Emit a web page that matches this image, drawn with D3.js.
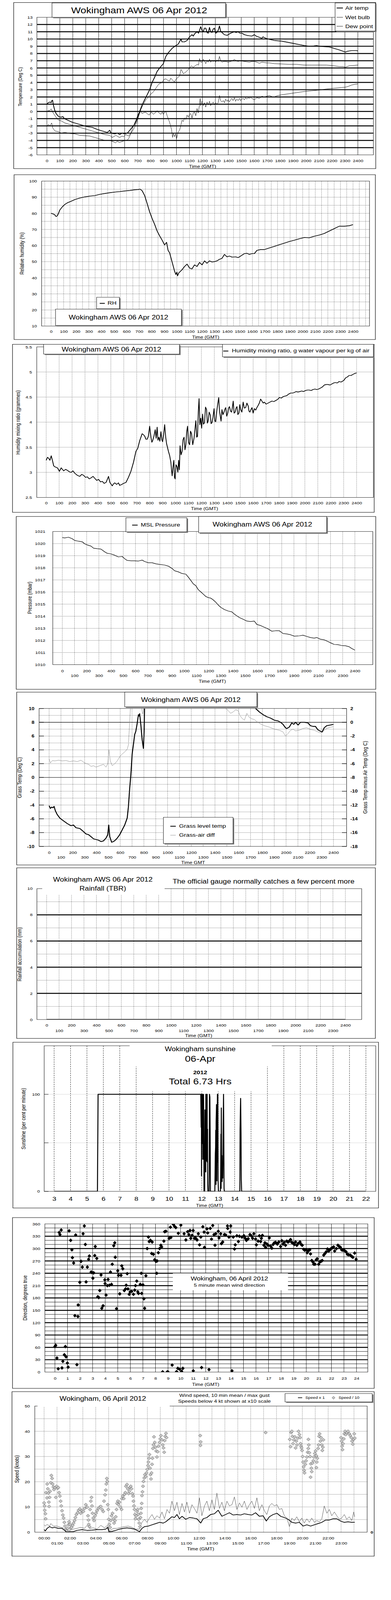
<!DOCTYPE html>
<html><head><meta charset="utf-8">
<script src="https://cdn.jsdelivr.net/npm/d3@7"></script>
<style>html,body{margin:0;padding:0;background:#fff;overflow:hidden}svg{display:block}</style>
</head><body>
<script>
// ---- data ----
// time is hhmm plotted as a plain number 0..2400
const airTemp = [[0,1.0],[10,1.2],[23,1.3],[33,1.2],[38,1.5],[44,1.55],[50,0.9],[60,0.2],[71,-0.3],[90,-0.7],[110,-0.8],[123,-0.7],[135,-1.0],[160,-1.2],[196,-1.5],[235,-1.7],[273,-1.9],[312,-2.1],[350,-2.2],[390,-2.5],[427,-2.7],[466,-2.9],[485,-2.6],[495,-3.0],[523,-3.1],[545,-3.0],[562,-3.2],[580,-3.0],[600,-3.1],[620,-3.0],[640,-2.6],[658,-2.2],[677,-1.8],[697,-1.0],[716,0.0],[735,0.9],[754,1.6],[774,2.3],[793,3.0],[812,4.0],[831,4.7],[850,5.5],[870,6.0],[899,6.6],[918,7.6],[937,8.1],[966,8.7],[995,9.1],[1014,9.3],[1035,10.0],[1043,9.6],[1062,9.6],[1082,9.8],[1101,10.3],[1120,10.6],[1130,10.4],[1139,10.7],[1159,11.0],[1170,10.8],[1178,11.2],[1187,11.7],[1197,11.2],[1207,11.0],[1216,11.5],[1226,11.5],[1236,10.9],[1245,10.8],[1255,11.6],[1264,11.0],[1274,10.9],[1284,11.4],[1293,11.5],[1303,10.8],[1312,10.9],[1322,11.2],[1332,11.8],[1341,11.1],[1351,10.9],[1370,10.6],[1390,10.5],[1418,10.8],[1447,11.0],[1460,10.9],[1476,11.0],[1490,10.8],[1505,10.8],[1525,10.6],[1543,10.5],[1563,10.45],[1582,10.4],[1601,10.6],[1615,10.4],[1630,10.3],[1645,10.2],[1659,10.1],[1668,10.3],[1678,10.2],[1690,10.1],[1707,10.0],[1755,9.8],[1813,9.7],[1871,9.5],[1928,9.3],[1986,9.1],[2025,9.0],[2060,9.05],[2082,9.1],[2102,9.0],[2140,8.95],[2179,8.9],[2200,8.8],[2217,8.7],[2236,8.6],[2256,8.5],[2280,8.35],[2304,8.2],[2318,8.3],[2333,8.35],[2352,8.4],[2371,8.4],[2390,8.4],[2400,8.35]];
const wetBulb = [[0,0.0],[10,0.1],[20,0.1],[33,0.35],[42,0.0],[52,-0.3],[71,-0.8],[90,-1.2],[110,-1.3],[139,-1.6],[177,-1.8],[216,-2.0],[254,-2.2],[293,-2.4],[331,-2.6],[370,-2.8],[408,-3.0],[447,-3.2],[485,-3.3],[504,-3.6],[533,-3.3],[550,-3.5],[562,-3.6],[580,-3.4],[591,-3.5],[610,-3.2],[630,-3.4],[649,-3.0],[668,-2.5],[687,-1.8],[706,-0.8],[726,0.3],[745,1.0],[764,1.6],[783,2.0],[803,2.4],[822,2.7],[841,3.2],[860,3.7],[875,3.9],[889,4.0],[903,4.4],[918,4.5],[932,4.3],[947,4.2],[956,4.6],[966,4.4],[976,4.2],[985,4.1],[995,4.4],[1005,4.6],[1024,4.9],[1035,5.8],[1043,5.6],[1053,5.2],[1062,5.3],[1082,5.6],[1101,6.0],[1115,6.3],[1130,6.1],[1145,6.3],[1159,6.5],[1170,6.4],[1178,7.3],[1187,6.8],[1197,6.8],[1207,7.2],[1216,7.0],[1226,6.6],[1236,7.0],[1245,6.8],[1255,7.2],[1264,6.8],[1274,7.0],[1284,6.9],[1293,7.0],[1303,6.8],[1312,7.1],[1322,6.9],[1332,7.6],[1341,7.0],[1351,6.8],[1365,6.9],[1380,6.9],[1400,6.8],[1418,6.9],[1434,7.0],[1447,7.2],[1460,7.0],[1476,6.9],[1490,7.0],[1505,6.95],[1524,6.9],[1543,6.85],[1563,6.8],[1582,6.9],[1601,6.9],[1620,6.8],[1640,6.65],[1660,6.8],[1678,6.75],[1697,6.7],[1717,6.7],[1755,6.6],[1813,6.55],[1871,6.5],[1928,6.5],[1986,6.4],[2044,6.4],[2102,6.4],[2159,6.4],[2217,6.3],[2256,6.2],[2285,6.2],[2304,6.1],[2333,6.3],[2370,6.35],[2400,6.4]];
const dewPoint = [[0,-2.0],[13,-1.8],[23,-2.0],[37,-1.6],[46,-2.3],[62,-2.7],[90,-2.8],[110,-3.0],[139,-2.9],[177,-3.05],[216,-3.1],[254,-3.3],[293,-3.35],[331,-3.4],[370,-3.6],[408,-3.8],[447,-4.0],[485,-4.0],[514,-4.2],[530,-4.35],[543,-4.1],[560,-4.3],[572,-4.2],[590,-4.1],[600,-4.0],[615,-4.0],[630,-3.8],[649,-3.0],[668,-2.0],[687,-1.2],[706,-0.3],[726,0.0],[735,-0.3],[745,-0.2],[760,-0.1],[774,-0.3],[790,-0.5],[803,-0.1],[812,-0.2],[822,-0.4],[836,-0.2],[851,0.1],[865,-0.2],[880,-0.4],[890,-0.1],[899,-0.4],[909,-0.1],[918,0.0],[928,-0.6],[947,-1.5],[962,-2.5],[970,-3.6],[976,-3.0],[985,-3.5],[990,-3.2],[995,-3.1],[1000,-3.8],[1005,-3.5],[1014,-2.8],[1024,-2.6],[1034,-1.9],[1043,-1.2],[1053,-1.4],[1062,-0.9],[1072,-1.1],[1082,-0.5],[1091,-0.8],[1101,-0.4],[1110,-0.3],[1120,-0.9],[1130,-0.2],[1139,-0.1],[1149,-0.6],[1159,0.4],[1168,-0.2],[1178,0.9],[1183,1.8],[1187,0.8],[1197,1.4],[1207,0.8],[1216,1.2],[1226,0.6],[1236,1.3],[1245,0.9],[1255,1.4],[1264,0.8],[1274,1.1],[1284,1.3],[1293,0.9],[1303,1.2],[1312,1.0],[1322,1.2],[1332,2.2],[1341,1.5],[1351,1.3],[1361,1.5],[1370,1.2],[1380,1.7],[1390,1.4],[1399,1.6],[1408,1.3],[1418,1.6],[1428,1.8],[1437,1.5],[1447,1.9],[1456,1.4],[1466,1.7],[1476,1.5],[1486,1.8],[1495,1.5],[1505,1.7],[1515,1.8],[1524,1.6],[1534,1.9],[1543,1.7],[1553,1.9],[1563,1.8],[1572,2.0],[1582,1.8],[1601,1.6],[1620,1.9],[1640,1.8],[1659,2.1],[1678,2.0],[1697,2.1],[1717,2.2],[1736,2.05],[1755,2.0],[1774,2.15],[1813,2.3],[1871,2.45],[1928,2.6],[1986,2.75],[2044,2.85],[2102,2.95],[2159,3.1],[2217,3.2],[2275,3.3],[2304,3.35],[2325,3.45],[2352,3.65],[2380,3.75],[2400,3.8]];
const relHum = [[0,80.0],[10,79.8],[20,79.5],[30,79.0],[40,78.0],[50,78.5],[59,80.0],[69,82],[89,84],[109,85.5],[129,86.5],[159,87.5],[188,88.5],[228,89.5],[268,90.2],[307,90.7],[347,91.0],[387,91.8],[426,92.3],[466,92.8],[506,93.2],[545,93.5],[585,93.9],[625,94.2],[664,94.6],[694,94.8],[708,95.0],[724,94],[744,91],[764,86],[783,81],[803,76.8],[823,73.2],[843,69],[863,66],[883,63.3],[902,60.4],[918,62],[930,57],[942,55.5],[962,49.8],[982,44],[992,42],[1000,43.5],[1005,41.2],[1015,43],[1041,45],[1061,47],[1081,48.5],[1101,46],[1120,45.5],[1140,48],[1160,47],[1180,49.5],[1200,48],[1220,50.5],[1239,49],[1259,50.5],[1279,49.8],[1299,50],[1319,50.5],[1339,51.5],[1358,52],[1378,54.5],[1398,53],[1418,53.5],[1438,52.8],[1467,53],[1487,52.5],[1517,54],[1537,55],[1557,55.2],[1576,54.5],[1596,55],[1616,55],[1636,57],[1666,57.5],[1695,57.5],[1735,58.5],[1775,59.5],[1814,60.5],[1854,61.5],[1894,62.5],[1933,63.3],[1973,64.2],[2013,65],[2052,64.8],[2092,65.8],[2132,66.5],[2171,67.5],[2211,69],[2251,70.5],[2290,72],[2330,72],[2370,72.3],[2400,73]];
const mixRatio = [[0,3.24],[10,3.30],[19,3.28],[29,3.24],[39,3.33],[48,3.24],[58,3.13],[67,3.11],[87,3.09],[102,3.02],[116,3.09],[135,3.03],[150,3.06],[164,3.04],[180,3.01],[193,3.0],[207,3.03],[222,2.98],[241,2.94],[260,2.92],[275,2.96],[289,2.94],[305,2.90],[318,2.91],[333,2.87],[347,2.89],[362,2.92],[376,2.88],[390,2.84],[405,2.86],[420,2.81],[434,2.82],[448,2.78],[463,2.80],[482,2.92],[492,2.80],[511,2.73],[520,2.77],[530,2.79],[545,2.76],[559,2.79],[568,2.74],[578,2.75],[598,2.78],[617,2.80],[636,2.90],[655,3.02],[675,3.20],[694,3.42],[708,3.48],[723,3.63],[742,3.77],[752,3.75],[762,3.72],[771,3.66],[781,3.66],[790,3.72],[800,3.92],[810,3.70],[817,3.60],[823,3.63],[833,3.72],[843,3.85],[850,3.68],[858,3.90],[864,3.64],[871,3.70],[879,3.62],[887,3.81],[894,3.65],[900,3.61],[908,3.75],[916,3.95],[924,3.70],[931,3.57],[945,3.42],[955,3.33],[964,3.20],[969,3.05],[974,2.93],[980,3.10],[987,3.24],[992,2.90],[997,2.87],[1004,3.15],[1012,3.11],[1018,3.00],[1024,3.24],[1030,3.05],[1035,3.53],[1043,3.35],[1051,3.42],[1058,3.65],[1066,3.70],[1073,3.45],[1080,3.55],[1086,3.80],[1093,3.92],[1100,3.60],[1109,3.55],[1116,3.82],[1124,3.77],[1133,3.55],[1143,3.68],[1150,3.85],[1157,4.03],[1164,3.70],[1170,3.72],[1176,4.20],[1182,4.47],[1188,3.95],[1195,4.08],[1202,3.88],[1209,4.16],[1216,3.96],[1224,3.99],[1232,4.30],[1240,4.25],[1246,3.98],[1253,4.03],[1260,4.20],[1269,4.14],[1275,3.97],[1282,3.99],[1290,4.10],[1298,4.27],[1304,4.02],[1311,4.01],[1318,4.20],[1325,4.34],[1334,4.49],[1340,4.22],[1346,4.12],[1352,4.02],[1359,4.25],[1367,4.15],[1375,4.20],[1382,4.26],[1388,4.29],[1396,4.12],[1404,4.18],[1410,4.28],[1417,4.31],[1425,4.22],[1433,4.20],[1440,4.30],[1446,4.42],[1453,4.18],[1461,4.20],[1468,4.28],[1475,4.31],[1482,4.15],[1490,4.18],[1497,4.35],[1504,4.25],[1513,4.20],[1523,4.40],[1532,4.28],[1542,4.29],[1552,4.38],[1562,4.32],[1568,4.22],[1575,4.20],[1583,4.25],[1591,4.29],[1600,4.18],[1610,4.27],[1620,4.24],[1629,4.29],[1638,4.33],[1648,4.38],[1658,4.46],[1668,4.42],[1678,4.38],[1687,4.40],[1700,4.36],[1716,4.38],[1730,4.40],[1745,4.42],[1760,4.41],[1774,4.43],[1788,4.45],[1803,4.49],[1818,4.48],[1832,4.51],[1846,4.52],[1861,4.53],[1875,4.56],[1890,4.58],[1904,4.58],[1918,4.59],[1932,4.61],[1947,4.60],[1961,4.61],[1976,4.62],[1990,4.61],[2005,4.63],[2020,4.64],[2034,4.64],[2048,4.63],[2063,4.65],[2078,4.66],[2092,4.65],[2106,4.66],[2121,4.68],[2135,4.70],[2150,4.74],[2165,4.75],[2179,4.75],[2194,4.74],[2208,4.76],[2222,4.78],[2236,4.79],[2250,4.78],[2265,4.81],[2280,4.80],[2294,4.82],[2304,4.84],[2314,4.88],[2328,4.90],[2342,4.93],[2357,4.93],[2371,4.95],[2385,4.97],[2400,4.98]];
const mslPressure = [[0,1020.5],[20,1020.47],[51,1020.53],[82,1020.4],[102,1020.26],[133,1020.2],[164,1020.15],[184,1019.98],[205,1019.89],[235,1019.8],[256,1019.62],[286,1019.58],[317,1019.55],[348,1019.32],[368,1019.2],[399,1019.15],[430,1019.04],[460,1018.9],[491,1018.94],[512,1018.75],[532,1018.61],[563,1018.58],[593,1018.58],[624,1018.56],[655,1018.64],[675,1018.52],[706,1018.42],[737,1018.42],[767,1018.33],[798,1018.28],[839,1018.23],[870,1018.14],[900,1017.95],[921,1017.76],[951,1017.67],[982,1017.53],[1013,1017.48],[1033,1017.24],[1054,1016.96],[1074,1016.68],[1095,1016.53],[1115,1016.2],[1136,1016.01],[1156,1015.83],[1176,1015.64],[1197,1015.54],[1217,1015.5],[1238,1015.35],[1258,1015.17],[1279,1014.93],[1299,1014.74],[1330,1014.55],[1361,1014.43],[1391,1014.36],[1412,1014.17],[1432,1014.03],[1453,1013.89],[1483,1013.75],[1514,1013.6],[1545,1013.56],[1575,1013.6],[1596,1013.32],[1627,1013.23],[1657,1013.09],[1688,1012.95],[1719,1012.76],[1749,1012.8],[1780,1012.8],[1811,1012.57],[1841,1012.54],[1872,1012.47],[1903,1012.35],[1944,1012.38],[1974,1012.43],[2005,1012.33],[2036,1012.24],[2066,1012.19],[2087,1012.24],[2117,1012.1],[2148,1012.05],[2179,1011.91],[2199,1011.81],[2230,1011.67],[2261,1011.65],[2291,1011.58],[2322,1011.56],[2353,1011.48],[2373,1011.34],[2400,1011.2]];
// grass level temp (left axis) and grass minus air (right axis); the middle of the day runs off the top
const grassTemp = [[0,-4.1],[11,-4.5],[21,-4.3],[32,-4.4],[42,-4.2],[53,-4.85],[69,-5.4],[91,-5.9],[122,-6.3],[154,-6.7],[185,-7.0],[206,-6.9],[227,-7.3],[259,-7.4],[280,-7.7],[312,-8.2],[333,-8.3],[354,-8.6],[375,-8.9],[396,-9.0],[417,-9.1],[438,-9.3],[459,-9.2],[480,-8.8],[495,-8.3],[503,-6.9],[512,-8.6],[528,-9.4],[543,-9.3],[558,-9.1],[575,-8.8],[596,-8.3],[617,-7.6],[638,-6.9],[659,-5.9],[669,-4.3],[680,-1.6],[690,0.4],[701,3.4],[711,4.7],[722,6.2],[732,6.7],[743,7.8],[754,9.1],[760,8.9],[764,9.25],[775,7.5],[785,5.5],[796,4.2],[802,6.7],[806,10.5],[900,15],[1100,19],[1300,20],[1500,16],[1650,12],[1743,10.0],[1774,9.5],[1806,9.1],[1838,8.8],[1869,8.6],[1901,8.3],[1932,8.2],[1953,8.0],[1974,7.7],[1995,7.2],[2006,7.1],[2027,7.3],[2048,7.9],[2065,7.7],[2080,8.0],[2101,7.6],[2122,8.0],[2153,8.0],[2185,7.9],[2206,7.5],[2227,7.4],[2248,7.4],[2269,6.9],[2290,6.7],[2305,6.6],[2322,7.2],[2343,7.5],[2375,7.6],[2400,7.7]];
const grassDiff = [[0,-5.3],[11,-5.9],[27,-5.55],[48,-5.6],[80,-5.5],[112,-5.6],[143,-5.55],[175,-5.7],[206,-5.6],[238,-5.7],[269,-5.5],[301,-5.9],[333,-6.1],[354,-6.4],[375,-6.3],[396,-6.5],[427,-6.3],[459,-6.1],[480,-6.5],[495,-6.0],[505,-4.0],[516,-5.6],[533,-6.3],[554,-6.0],[575,-5.6],[596,-5.0],[617,-4.6],[638,-4.3],[659,-3.9],[669,-3.3],[680,0.0],[686,2.0],[720,4],[770,3.5],[785,1.6],[790,1.2],[795,1.6],[805,4],[900,7],[1100,9],[1300,7],[1450,3.5],[1490,2.0],[1511,1.7],[1532,1.3],[1553,1.5],[1574,1.8],[1595,1.7],[1610,1.0],[1627,0.6],[1648,0.3],[1669,1.3],[1690,0.7],[1711,0.5],[1732,0.4],[1753,0.1],[1785,-0.25],[1817,-0.5],[1859,-0.7],[1901,-1.0],[1943,-1.15],[1974,-1.4],[1995,-2.0],[2016,-1.65],[2038,-1.15],[2059,-1.0],[2080,-1.25],[2111,-1.15],[2143,-0.9],[2174,-0.8],[2206,-1.05],[2238,-1.15],[2269,-1.4],[2290,-1.55],[2311,-1.3],[2343,-0.9],[2375,-0.7],[2400,-0.65]];
const rainfall = [[0,0],[2400,0]];
// sunshine: hour, per cent of the minute
const sunshine = [[3,0],[5.64,0],[5.66,50],[5.68,100],[11.937,100],[11.952,78],[11.962,66],[11.975,100],[11.984,16],[11.995,100],[12.003,49],[12.016,100],[12.032,67],[12.045,100],[12.056,97],[12.066,33],[12.08,95],[12.095,49],[12.106,100],[12.119,70],[12.135,0],[12.175,0],[12.19,84],[12.206,21],[12.222,80],[12.238,20],[12.246,100],[12.286,100],[12.3,31],[12.325,100],[12.333,30],[12.349,64],[12.357,7.5],[12.373,0],[12.44,0],[12.452,18],[12.468,100],[12.492,97],[12.508,62],[12.524,0],[12.794,0],[12.81,19.6],[12.825,39],[12.841,45.6],[12.849,63],[12.865,7],[12.873,71.5],[12.897,89.5],[12.913,10.8],[12.952,100],[12.968,30],[12.976,100],[12.992,10.8],[13.016,0],[13.135,0],[13.151,16.3],[13.167,59],[13.175,3],[13.19,86],[13.206,20],[13.222,37],[13.238,10],[13.254,26],[13.278,13.6],[13.302,64],[13.325,100],[13.341,53],[13.357,3],[13.373,0],[14.317,0],[14.325,17.4],[14.333,64],[14.365,95.8],[14.389,60],[14.405,12],[14.429,0],[22,0]];
// 5 minute mean wind direction: hour, degrees
const windDir = [[0,62],[0.06,65],[0.16,34],[0.26,8],[0.34,339],[0.4,334],[0.5,345],[0.56,10],[0.63,26],[0.75,42],[0.83,62],[0.89,37],[0.99,22],[1.05,12],[1.13,343],[1.25,320],[1.35,297],[1.39,278],[1.49,265],[1.59,137],[1.65,333],[1.75,18],[1.83,135],[1.85,163],[1.98,218],[2.08,269],[2.18,255],[2.24,336],[2.34,355],[2.42,310],[2.48,219],[2.58,255],[2.68,274],[2.74,282],[2.88,243],[2.94,242],[3.02,228],[3.08,241],[3.17,283],[3.21,305],[3.33,276],[3.41,183],[3.49,181],[3.57,198],[3.67,236],[3.73,155],[3.83,161],[3.97,224],[3.99,215],[4.07,187],[4.17,210],[4.23,225],[4.33,211],[4.42,243],[4.5,213],[4.56,262],[4.68,307],[4.76,314],[4.8,279],[4.9,154],[5.0,246],[5.06,235],[5.16,190],[5.26,235],[5.32,258],[5.4,251],[5.52,198],[5.62,202],[5.67,211],[5.75,239],[5.81,202],[5.91,189],[5.99,195],[6.11,196],[6.25,189],[6.35,199],[6.41,210],[6.51,221],[6.59,195],[6.65,191],[6.79,213],[6.87,240],[6.9,191],[7.0,212],[7.08,178],[7.14,155],[7.24,234],[7.34,300],[7.44,328],[7.5,317],[7.6,320],[7.7,288],[7.74,316],[7.84,286],[7.94,273],[8.04,269],[8.1,240],[8.13,270],[8.23,290],[8.33,300],[8.43,308],[8.49,304],[8.57,0.5],[8.67,318],[8.73,341],[8.83,342],[8.93,0],[8.99,0.5],[9.09,325],[9.19,352],[9.23,327],[9.33,17],[9.42,359],[9.52,354],[9.62,351],[9.68,1],[9.78,9],[9.82,337],[9.92,7],[10.02,357],[10.08,2],[10.18,9],[10.28,336],[10.42,321],[10.56,341],[10.66,334],[10.75,344],[10.81,325],[10.91,332],[11.0,344],[11.01,3],[11.11,325],[11.21,325],[11.31,321],[11.41,336],[11.51,309],[11.61,328],[11.67,11],[11.77,353],[11.87,340],[11.9,303],[12.1,348],[12.16,338],[12.26,6],[12.36,349],[12.46,323],[12.56,356],[12.66,334],[12.74,308],[12.8,336],[13.0,342],[13.06,326],[13.19,336],[13.25,312],[13.35,316],[13.49,334],[13.59,333],[13.73,355],[13.75,349],[13.85,328],[13.95,340],[13.99,355],[14.09,3],[14.19,328],[14.29,299],[14.35,309],[14.48,331],[14.6,317],[14.68,330],[14.88,328],[15.04,331],[15.14,325],[15.24,320],[15.38,324],[15.52,334],[15.63,331],[15.73,325],[15.83,336],[15.97,323],[16.03,309],[16.17,318],[16.27,331],[16.37,317],[16.43,325],[16.51,332],[16.63,308],[16.71,314],[16.77,303],[16.87,311],[16.96,308],[17.06,326],[17.16,306],[17.26,301],[17.36,310],[17.46,314],[17.56,315],[17.7,311],[17.82,316],[17.96,305],[18.06,319],[18.15,311],[18.25,315],[18.35,308],[18.45,318],[18.55,316],[18.65,318],[18.75,322],[18.85,315],[18.95,313],[19.05,310],[19.15,316],[19.25,308],[19.35,312],[19.5,316],[19.6,310],[19.68,308],[19.8,298],[19.88,296],[20.0,297],[20.08,290],[20.18,295],[20.28,297],[20.34,287],[20.44,271],[20.54,267],[20.6,262],[20.7,262],[20.8,273],[20.87,275],[20.99,262],[21.09,268],[21.17,269],[21.27,271],[21.39,284],[21.49,288],[21.59,292],[21.69,299],[21.79,294],[21.88,297],[21.98,300],[22.08,302],[22.18,304],[22.26,294],[22.4,300],[22.52,308],[22.62,305],[22.72,303],[22.82,297],[22.92,296],[23.02,296],[23.17,292],[23.27,286],[23.37,285],[23.51,284],[23.61,281],[23.71,279],[23.85,289],[23.97,274]];
// wind speed (knots): hour, value
const speedMean = [[0,1.0],[0.1,0.5],[0.23,1.5],[0.43,2.2],[0.62,1.7],[0.81,1.9],[1.1,1.5],[1.39,1.5],[1.59,0.7],[1.74,0],[1.97,0.2],[2.26,0.2],[2.55,0.7],[2.94,1.0],[3.33,0.7],[3.71,0.8],[4.1,1.0],[4.49,1.0],[4.78,1.2],[4.91,1.9],[5.03,0.15],[5.26,0.3],[5.55,0.7],[5.84,1.2],[6.13,1.5],[6.42,1.7],[6.71,1.5],[7.0,1.2],[7.2,0.7],[7.39,0.2],[7.58,1.5],[7.78,2.2],[8.07,2.4],[8.36,2.9],[8.65,3.4],[8.94,3.9],[9.23,3.6],[9.42,4.1],[9.71,5.3],[9.9,6.1],[10.1,5.8],[10.29,7.0],[10.48,5.3],[10.68,6.3],[10.97,5.1],[11.26,5.8],[11.55,5.6],[11.84,5.3],[12.13,3.6],[12.32,5.3],[12.61,5.8],[12.9,7.0],[13.19,7.3],[13.48,8.7],[13.77,6.3],[14.06,7.0],[14.35,7.7],[14.64,6.8],[14.93,7.0],[15.22,6.8],[15.51,7.3],[15.8,7.0],[16.09,6.8],[16.38,7.7],[16.67,6.3],[16.96,6.5],[17.21,4.4],[17.45,6.1],[17.74,7.0],[18.03,7.5],[18.32,6.3],[18.61,5.8],[18.9,5.1],[19.19,3.9],[19.48,3.6],[19.77,3.9],[20.06,2.4],[20.35,2.9],[20.64,2.4],[20.93,2.9],[21.22,3.4],[21.51,3.9],[21.8,4.8],[22.09,4.8],[22.38,5.3],[22.67,5.3],[22.96,4.4],[23.25,3.9],[23.54,4.1],[23.83,3.9],[24.06,3.9]];
const speedGust = [[0,2.9],[0.1,2.4],[0.23,3.1],[0.43,2.4],[0.52,3.4],[0.72,2.4],[1.0,2.4],[1.3,1.9],[1.49,1.7],[1.68,0.7],[1.97,0.7],[2.26,1.2],[2.55,1.5],[2.84,1.9],[3.13,1.5],[3.33,2.7],[3.52,1.5],[3.81,1.7],[4.1,1.2],[4.39,2.7],[4.68,1.7],[4.91,2.7],[5.07,0.5],[5.36,1.5],[5.65,1.5],[5.94,1.9],[6.23,2.2],[6.52,2.4],[6.81,1.9],[7.1,1.2],[7.39,1.2],[7.58,3.9],[7.78,5.1],[7.97,3.9],[8.16,5.6],[8.36,7.0],[8.55,5.1],[8.74,6.5],[8.94,5.6],[9.13,8.0],[9.32,5.3],[9.52,9.0],[9.71,7.5],[9.9,12.3],[10.1,8.5],[10.29,11.9],[10.48,7.0],[10.68,11.4],[10.87,8.0],[11.06,11.9],[11.26,7.5],[11.45,10.9],[11.64,9.4],[11.84,7.5],[12.03,13.6],[12.22,6.5],[12.42,10.4],[12.61,12.3],[12.8,8.5],[13.0,12.8],[13.19,9.0],[13.38,15.5],[13.58,9.4],[13.77,11.9],[13.96,8.5],[14.16,12.3],[14.35,10.4],[14.55,10.9],[14.74,14.0],[14.93,9.0],[15.13,11.6],[15.32,9.9],[15.51,12.3],[15.71,9.0],[15.9,10.9],[16.09,12.3],[16.29,9.4],[16.48,13.6],[16.67,8.5],[16.87,10.9],[17.06,8.5],[17.25,7.0],[17.45,10.4],[17.64,11.4],[17.83,10.4],[18.03,10.9],[18.22,9.0],[18.41,9.4],[18.61,6.5],[18.8,5.6],[19.0,2.2],[19.19,5.6],[19.38,4.6],[19.57,6.1],[19.77,4.1],[19.96,5.6],[20.15,3.6],[20.35,5.3],[20.54,3.9],[20.73,5.6],[20.93,3.9],[21.12,4.6],[21.32,4.1],[21.51,5.3],[21.7,10.4],[21.9,7.5],[22.09,9.0],[22.28,6.5],[22.48,8.0],[22.67,6.5],[22.86,5.1],[23.05,5.6],[23.25,7.0],[23.44,5.1],[23.63,6.1],[23.83,4.6],[23.98,8.0],[24.06,6.1]];
const speedLow = [[0,11.6],[0.04,10.4],[0.05,8.7],[0.1,7.3],[0.12,5.3],[0.15,15.7],[0.23,13.6],[0.24,19.1],[0.29,17.2],[0.33,15.5],[0.37,11.9],[0.39,10.2],[0.43,13.8],[0.46,16.2],[0.52,19.6],[0.56,22.5],[0.62,21.3],[0.66,19.1],[0.72,17.9],[0.77,16.9],[0.85,17.7],[0.91,13.8],[0.97,18.2],[1.04,17.4],[1.1,17.7],[1.16,15.7],[1.22,14.3],[1.28,12.3],[1.33,10.4],[1.39,8.5],[1.45,6.8],[1.51,5.6],[1.57,3.9],[1.62,2.4],[1.7,1.2],[1.74,0.5],[1.82,1.5],[1.88,2.9],[1.93,4.1],[2.01,3.1],[2.07,1.7],[2.13,1.9],[2.21,2.7],[2.28,3.6],[2.36,4.6],[2.42,5.8],[2.5,7.0],[2.59,7.7],[2.67,8.7],[2.77,9.2],[2.84,7.5],[2.94,8.5],[3.04,8.2],[3.13,9.4],[3.23,10.9],[3.33,9.9],[3.4,6.5],[3.44,4.8],[3.46,3.1],[3.52,2.2],[3.56,9.0],[3.62,12.3],[3.67,13.8],[3.71,10.4],[3.75,7.5],[3.81,5.6],[3.87,4.6],[3.95,6.5],[4.02,7.5],[4.1,8.5],[4.2,9.4],[4.29,9.9],[4.39,10.2],[4.49,9.0],[4.58,8.2],[4.64,12.3],[4.72,14.8],[4.78,16.7],[4.82,19.1],[4.86,21.3],[4.89,20.1],[4.93,10.9],[4.97,9.0],[5.01,5.1],[5.05,3.1],[5.11,1.9],[5.16,4.6],[5.22,6.5],[5.3,7.5],[5.36,5.3],[5.42,3.6],[5.49,4.6],[5.55,6.1],[5.61,9.0],[5.65,11.4],[5.71,12.3],[5.76,10.9],[5.84,11.9],[5.92,9.9],[6.0,9.0],[6.03,13.3],[6.09,14.3],[6.17,13.3],[6.23,15.0],[6.29,15.7],[6.34,18.2],[6.42,18.9],[6.48,17.2],[6.54,15.3],[6.6,16.2],[6.65,17.7],[6.71,18.2],[6.77,17.2],[6.83,15.3],[6.89,14.3],[6.92,12.3],[6.96,10.4],[7.0,9.0],[7.04,7.0],[7.08,5.3],[7.14,6.5],[7.2,8.2],[7.25,9.0],[7.29,7.0],[7.33,5.1],[7.37,3.6],[7.43,2.2],[7.47,5.8],[7.5,7.5],[7.52,9.4],[7.56,11.4],[7.58,14.5],[7.62,16.0],[7.66,18.2],[7.7,20.1],[7.76,21.5],[7.81,22.8],[7.87,22.0],[7.93,23.5],[7.99,24.9],[8.05,26.4],[8.08,27.8],[8.12,29.3],[8.16,30.8],[8.2,25.4],[8.24,22.8],[8.28,21.1],[8.32,23.5],[8.36,26.9],[8.39,29.3],[8.43,33.2],[8.47,34.6],[8.51,37.8],[8.57,35.6],[8.63,33.7],[8.68,32.2],[8.74,29.8],[8.8,31.9],[8.86,34.1],[8.94,35.6],[9.0,37.0],[9.05,38.3],[9.13,36.6],[9.19,34.6],[9.25,33.4],[9.3,31.7],[9.34,36.3],[9.38,38.0],[9.44,39.2],[9.48,37.5],[12.09,38.3],[12.11,34.4],[12.13,35.8],[17.16,39.5],[19.03,36.8],[19.09,33.9],[19.13,39.5],[19.19,40.0],[19.23,38.0],[19.28,35.1],[19.34,36.6],[19.42,37.8],[19.48,33.4],[19.53,36.1],[19.59,34.6],[19.65,37.3],[19.71,40.0],[19.77,38.7],[19.83,37.5],[19.86,35.1],[19.9,34.1],[19.94,33.4],[19.98,32.4],[20.02,30.0],[20.06,27.8],[20.1,25.9],[20.14,24.5],[20.17,23.5],[20.23,26.9],[20.29,28.3],[20.35,29.8],[20.41,31.7],[20.46,33.2],[20.47,36.8],[20.5,34.6],[20.54,31.5],[20.6,30.0],[20.64,21.8],[20.66,27.1],[20.7,25.4],[20.73,24.0],[20.79,27.4],[20.85,28.3],[20.89,29.8],[20.97,31.2],[21.03,32.2],[21.08,30.3],[21.09,25.6],[21.12,27.8],[21.16,29.3],[21.22,33.2],[21.26,34.6],[21.3,38.0],[21.34,39.0],[21.4,36.1],[21.45,37.5],[21.51,34.6],[21.55,32.4],[21.59,33.7],[21.63,36.6],[23.0,37.5],[23.04,36.1],[23.08,34.1],[23.11,32.7],[23.15,35.1],[23.21,37.0],[23.25,39.0],[23.31,40.0],[23.37,38.7],[23.44,39.5],[23.54,40.0],[23.64,39.0],[23.71,38.3],[23.79,37.5],[23.85,36.1],[23.91,34.9],[23.97,36.8],[24.02,39.0],[24.06,37.3]];

// ---- ticks and labels ----
const timeTicks = d3.range(0, 2401, 100);
const timeEven = d3.range(0, 2401, 200);
const timeOdd = d3.range(100, 2400, 200);
const tempTicks = d3.range(-6, 14);
const rhTicks = d3.range(10, 101, 10);
const mixTicks = [2.5, 3, 3.5, 4, 4.5, 5, 5.5];
const pressTicks = d3.range(1010, 1022);
const grassTicks = d3.range(-10, 11, 2);
const diffTicks = d3.range(-18, 3, 2);
const rainTicks = [0, 2, 4, 6, 8, 10];
const sunHours = d3.range(3, 23);
const sunTicks = [0, 100];
const dirTicks = d3.range(0, 361, 30);
const dirHours = d3.range(0, 25);
const speedTicks = [0, 10, 20, 30, 40, 50];
const speedHoursEven = d3.range(0, 24, 2);
const speedHoursOdd = d3.range(1, 24, 2);
const hhmm = h => (h < 10 ? "0" : "") + h + ":00";

const FONT = "'Liberation Sans', Arial, Helvetica, sans-serif";
// the sheet is laid out on a 1000 x 5000 canvas; if the window is shorter, squeeze it to fit
const H = Math.min(5000, window.innerHeight || 5000);
const svg = d3.select("body").append("svg").attr("width", 1000).attr("height", H)
  .attr("viewBox", "0 0 1000 5000").attr("preserveAspectRatio", "none")
  .style("background", "#fff").attr("font-family", FONT);
const defs = svg.append("defs");

let clipN = 0;
function panel(f, p, xd, yd) {
  svg.append("rect").attr("x", f[0]).attr("y", f[1]).attr("width", f[2] - f[0]).attr("height", f[3] - f[1])
    .attr("fill", "#fff").attr("stroke", "#000").attr("stroke-width", 1.2);
  const x = d3.scaleLinear().domain(xd).range([p[0], p[2]]);
  const y = d3.scaleLinear().domain(yd).range([p[3], p[1]]);
  const id = "clip" + (clipN++);
  defs.append("clipPath").attr("id", id).append("rect")
    .attr("x", p[0]).attr("y", p[1]).attr("width", p[2] - p[0]).attr("height", p[3] - p[1]);
  return { x, y, p, clip: "url(#" + id + ")" };
}
function hLines(P, vals, w, dash, col) {
  svg.append("g").selectAll("line").data(vals).join("line")
    .attr("x1", P.p[0]).attr("x2", P.p[2]).attr("y1", d => P.y(d)).attr("y2", d => P.y(d))
    .attr("stroke", col || "#000").attr("stroke-width", w).attr("stroke-dasharray", dash || null);
}
function vLines(P, vals, w, dash, col) {
  svg.append("g").selectAll("line").data(vals).join("line")
    .attr("y1", P.p[1]).attr("y2", P.p[3]).attr("x1", d => P.x(d)).attr("x2", d => P.x(d))
    .attr("stroke", col || "#000").attr("stroke-width", w).attr("stroke-dasharray", dash || null);
}
function border(P) {
  svg.append("rect").attr("x", P.p[0]).attr("y", P.p[1]).attr("width", P.p[2] - P.p[0]).attr("height", P.p[3] - P.p[1])
    .attr("fill", "none").attr("stroke", "#000").attr("stroke-width", 1);
}
function trace(P, data, w, col, yScale) {
  const ys = yScale || P.y;
  svg.append("path").datum(data).attr("clip-path", P.clip)
    .attr("d", d3.line().x(d => P.x(d[0])).y(d => ys(d[1])))
    .attr("fill", "none").attr("stroke", col).attr("stroke-width", w).attr("stroke-linejoin", "round");
}
// markers: the clip goes on an untransformed group, the shapes are moved inside it
function markers(P, data, shape, fill, stroke) {
  svg.append("g").attr("clip-path", P.clip)
    .selectAll("path").data(data).join("path")
    .attr("transform", d => `translate(${P.x(d[0])},${P.y(d[1])})`)
    .attr("d", d3.symbol().type(shape))
    .attr("fill", fill).attr("stroke", stroke || "none").attr("stroke-width", 0.7);
}
function box(x0, y0, x1, y1, shadow) {
  if (shadow) svg.append("rect").attr("x", x0 + 3).attr("y", y0 + 3).attr("width", x1 - x0).attr("height", y1 - y0).attr("fill", "#808080");
  svg.append("rect").attr("x", x0).attr("y", y0).attr("width", x1 - x0).attr("height", y1 - y0)
    .attr("fill", "#fff").attr("stroke", shadow === false ? "none" : "#000");
}
function whiteRect(x0, y0, x1, y1) {
  svg.append("rect").attr("x", x0).attr("y", y0).attr("width", x1 - x0).attr("height", y1 - y0).attr("fill", "#fff");
}
function label(x, y, s, fs, anchor, weight, rot) {
  const t = svg.append("text").attr("x", x).attr("y", y).attr("dy", "0.35em")
    .attr("font-size", fs).attr("text-anchor", anchor || "middle").attr("font-weight", weight || "normal").text(s);
  if (rot) t.attr("transform", `rotate(-90,${x},${y})`);
  return t;
}
function styleAxis(g, fs, weight) {
  g.select(".domain").remove();
  g.attr("font-family", FONT).attr("font-size", fs);
  g.selectAll("text").attr("fill", "#000").attr("font-weight", weight || "normal");
}
function xAxis(P, vals, pad, fs, fmt) {
  const a = d3.axisBottom(P.x).tickValues(vals).tickSize(0).tickPadding(pad).tickFormat(fmt || (d => d));
  styleAxis(svg.append("g").attr("transform", `translate(0,${P.p[3]})`).call(a), fs);
}
function yAxis(P, vals, pad, fs, weight, scale) {
  const a = d3.axisLeft(scale || P.y).tickValues(vals).tickSize(0).tickPadding(pad).tickFormat(d => d);
  styleAxis(svg.append("g").attr("transform", `translate(${P.p[0]},0)`).call(a), fs, weight);
}
function yAxisRight(P, scale, vals, pad, fs, weight) {
  const a = d3.axisRight(scale).tickValues(vals).tickSize(0).tickPadding(pad).tickFormat(d => d);
  styleAxis(svg.append("g").attr("transform", `translate(${P.p[2]},0)`).call(a), fs, weight);
}
function legendLine(x0, x1, y, w, col) {
  svg.append("line").attr("x1", x0).attr("x2", x1).attr("y1", y).attr("y2", y).attr("stroke", col).attr("stroke-width", w);
}
const diamond = (hw, hh) => ({ draw(ctx) { ctx.moveTo(0, -hh); ctx.lineTo(hw, 0); ctx.lineTo(0, hh); ctx.lineTo(-hw, 0); ctx.closePath(); } });

// ===== 1. temperatures =====
{
  const P = panel([35, 8, 961, 527], [94.4, 54, 955, 484], [-77, 2520], [-6, 13]);
  vLines(P, timeTicks, 1);
  hLines(P, d3.range(-5, 13), 3);
  trace(P, dewPoint, 1, "#000");
  trace(P, wetBulb, 1, "#000");
  trace(P, airTemp, 2, "#000");
  border(P);
  yAxis(P, tempTicks, 11, 12);
  xAxis(P, timeTicks, 14, 12);
  label(518, 520, "Time (GMT)", 13);
  label(51, 271, "Temperature (Deg C)", 13, "middle", null, true);
  box(133, 9, 577, 54, true);
  label(356, 32, "Wokingham AWS 06 Apr 2012", 26);
  box(857, 9, 960, 97, true);
  legendLine(861, 877, 25, 2.5, "#000");
  legendLine(861, 877, 54, 1, "#000");
  legendLine(861, 877, 82, 1, "#000");
  label(883, 25, "Air temp", 16, "start");
  label(883, 54, "Wet bulb", 16, "start");
  label(883, 82, "Dew point", 16, "start");
}

// ===== 2. relative humidity =====
{
  const P = panel([36, 546, 960, 1061], [106.5, 566, 945, 1019], [-75, 2531], [10, 100]);
  vLines(P, d3.range(-50, 2531, 50), 1, "1,2");
  hLines(P, d3.range(15, 100, 5), 1, "1,2");
  trace(P, relHum, 2, "#000");
  border(P);
  yAxis(P, rhTicks, 12, 12);
  xAxis(P, timeTicks, 13, 12);
  label(526, 1054, "Time (GMT)", 13);
  label(56, 792, "Relative humidity (%)", 14, "middle", null, true);
  box(247, 929, 305.5, 965, true);
  legendLine(255, 268, 948, 2.5, "#000");
  label(275, 947, "RH", 16, "start");
  box(142, 966, 464, 1017, true);
  label(303, 992, "Wokingham AWS 06 Apr 2012", 19);
}

// ===== 3. humidity mixing ratio =====
{
  const P = panel([32, 1076, 957, 1601], [94, 1084, 955, 1554.5], [-73, 2530], [2.5, 5.5]);
  vLines(P, timeTicks, 1, "1,2");
  hLines(P, [3, 3.5, 4, 4.5, 5], 1, "1,2");
  trace(P, mixRatio, 2, "#000");
  border(P);
  yAxis(P, mixTicks, 12, 12);
  xAxis(P, timeTicks, 13, 12);
  label(523, 1590, "Time (GMT)", 13);
  label(46, 1320, "Humidity mixing ratio (grammes)", 14, "middle", null, true);
  box(111.6, 1076, 459, 1106.5, true);
  label(285, 1092, "Wokingham AWS 06 Apr 2012", 19);
  box(569, 1076, 955, 1115, true);
  defs.append("clipPath").attr("id", "legclip").append("rect").attr("x", 569).attr("y", 1076).attr("width", 385).attr("height", 39);
  legendLine(571, 584, 1097, 2.5, "#000");
  label(593, 1096, "Humidity mixing ratio, g water vapour per kg of air", 16, "start").attr("clip-path", "url(#legclip)");
}

// ===== 4. MSL pressure =====
{
  const P = panel([41.5, 1614, 961, 2154], [135, 1661, 953.5, 2077], [-78, 2547], [1010, 1021]);
  vLines(P, timeTicks, 1, "1,2");
  hLines(P, d3.range(1011, 1021), 1, "1,2");
  trace(P, mslPressure, 1.5, "#000");
  border(P);
  yAxis(P, pressTicks, 19, 12);
  xAxis(P, timeEven, 15, 12);
  xAxis(P, timeOdd, 30, 12);
  label(543, 2129, "Time (GMT)", 13);
  label(76.5, 1868, "Pressure (mbar)", 14, "middle", null, true);
  box(322, 1618, 478, 1662, true);
  legendLine(338, 352, 1641, 2.5, "#000");
  label(360, 1640, "MSL Pressure", 16, "start");
  box(508, 1614, 835.5, 1665, true);
  label(671, 1639, "Wokingham AWS 06 Apr 2012", 19);
}

// ===== 5. grass temperature =====
{
  const P = panel([42.7, 2163, 961, 2703], [100, 2214, 886.5, 2645], [-84.5, 2511], [-10, 10]);
  const yR = d3.scaleLinear().domain([-18, 2]).range([P.p[3], P.p[1]]);
  vLines(P, timeTicks, 1, "1,2");
  hLines(P, d3.range(-9, 10).filter(v => v !== 0 && v !== 8), 1, "1,2");
  hLines(P, [0, 8], 1.5);
  // inward major ticks
  svg.append("g").selectAll("line").data(grassTicks).join("line")
    .attr("x1", P.p[0]).attr("x2", P.p[0] + 12).attr("y1", d => P.y(d)).attr("y2", d => P.y(d)).attr("stroke", "#000").attr("stroke-width", 1.5);
  svg.append("g").selectAll("line").data(diffTicks).join("line")
    .attr("x1", P.p[2] - 12).attr("x2", P.p[2]).attr("y1", d => yR(d)).attr("y2", d => yR(d)).attr("stroke", "#000").attr("stroke-width", 1.5);
  trace(P, grassDiff, 1, "#888", yR);
  trace(P, grassTemp, 2.5, "#000");
  border(P);
  yAxis(P, grassTicks, 12, 13, "bold");
  yAxisRight(P, yR, diffTicks, 9.5, 13, "bold");
  xAxis(P, timeEven, 15, 12);
  xAxis(P, timeOdd, 30, 12);
  label(494, 2696, "Time GMT", 13);
  label(50, 2430, "Grass Temp (Deg C)", 14, "middle", null, true);
  label(934, 2429, "Grass Temp minus Air Temp (Deg C)", 14, "middle", null, true);
  box(319, 2163, 657, 2209, true);
  label(488, 2187, "Wokingham AWS 06 Apr 2012", 19);
  box(418, 2554, 596, 2636, true);
  legendLine(435.6, 449.6, 2582, 2.5, "#000");
  legendLine(435.6, 449.6, 2610, 1, "#888");
  label(458, 2581, "Grass level temp", 16, "start");
  label(458, 2609, "Grass-air diff", 16, "start");
}

// ===== 6. rainfall =====
{
  const P = panel([42.7, 2712, 960, 3245], [94.4, 2777, 925, 3186], [-78, 2531], [0, 10]);
  vLines(P, timeTicks, 1, "1,2");
  hLines(P, [1, 3, 5, 7, 9], 1, "1,2");
  hLines(P, [2, 4, 6, 8], 3);
  border(P);
  whiteRect(108, 2765, 421, 2796);
  trace(P, rainfall, 3, "#000");
  yAxis(P, rainTicks, 11, 12);
  xAxis(P, timeEven, 14, 12);
  xAxis(P, timeOdd, 30, 12);
  label(508, 3237, "Time (GMT)", 13);
  label(50, 2982, "Rainfall accumulation (mm)", 14, "middle", null, true);
  label(263, 2749, "Wokingham AWS 06 Apr 2012", 19);
  label(263, 2776, "Rainfall (TBR)", 19);
  label(674, 2754, "The official gauge normally catches a few percent more", 19);
}

// ===== 7. sunshine =====
{
  const P = panel([33, 3257, 968, 3775], [113, 3268, 961, 3723], [2.395, 22.6], [0, 150]);
  vLines(P, sunHours, 1, "4,3");
  hLines(P, [50, 100], 1, "1,1", "#aaa");
  border(P);
  whiteRect(331.6, 3262, 695, 3333);
  whiteRect(352, 3262, 680, 3410);
  svg.append("g").selectAll("line").data([0, 50, 100]).join("line")
    .attr("x1", P.p[0]).attr("x2", P.p[0] + 11).attr("y1", d => P.y(d)).attr("y2", d => P.y(d)).attr("stroke", "#000");
  trace(P, sunshine, 2.5, "#000");
  yAxis(P, sunTicks, 11, 12);
  xAxis(P, sunHours, 17, 18);
  label(536, 3767, "Time (GMT)", 13);
  label(60.6, 3496, "Sunshine (per cent per minute)", 14, "middle", null, true);
  label(512, 3278, "Wokingham sunshine", 19);
  label(512, 3309, "06-Apr", 26);
  label(512, 3351, "2012", 16, "middle", "bold");
  label(512, 3379, "Total 6.73 Hrs", 26);
}

// ===== 8. wind direction =====
{
  const P = panel([32, 3805, 957, 4338.6], [114.8, 3824.6, 940.7, 4287.7], [-0.8, 24.9], [0, 360]);
  vLines(P, dirHours, 1);
  hLines(P, d3.range(10, 360, 10), 1);
  hLines(P, d3.range(30, 331, 30), 3);
  border(P);
  whiteRect(442, 3979, 736.6, 4032);
  markers(P, windDir, diamond(4.5, 6), "#000");
  yAxis(P, dirTicks, 12, 12);
  xAxis(P, dirHours, 15, 12);
  label(526, 4326, "Time (GMT)", 13);
  label(63.8, 4056, "Direction, degrees true", 14, "middle", null, true);
  label(586.7, 3996, "Wokingham,  06 April 2012", 17);
  label(586.7, 4016, "5 minute mean wind direction", 14);
}

// ===== 9. wind speed =====
{
  const P = panel([30.6, 4349, 957, 4863], [89, 4394, 939, 4788], [-0.72, 25.02], [0, 50]);
  vLines(P, dirHours, 1, "1,2");
  hLines(P, d3.range(5, 50, 5), 1, "1,2");
  border(P);
  whiteRect(96, 4390, 434, 4397);
  trace(P, speedGust, 1, "#444");
  markers(P, speedLow, diamond(4.5, 5), "#c8c8c8", "#333");
  trace(P, speedMean, 2, "#000");
  yAxis(P, speedTicks, 12.5, 12);
  xAxis(P, speedHoursEven, 14, 12, hhmm);
  xAxis(P, speedHoursOdd, 30, 12, hhmm);
  label(951, 4788, "0", 12, "middle", "bold");
  label(513, 4840, "Time (GMT)", 13);
  label(43, 4591, "Speed (knots)", 14, "middle", null, true);
  label(263, 4371, "Wokingham,  06 April 2012", 19);
  label(574, 4360, "Wind speed, 10 min mean / max gust", 14);
  label(574, 4379, "Speeds below 4 kt shown at x10 scale", 14);
  box(729, 4355, 952, 4381, true);
  legendLine(762, 773, 4368, 2, "#000");
  label(781, 4368, "Speed x 1", 11, "start");
  svg.append("path").attr("transform", "translate(853,4368)")
    .attr("d", d3.symbol().type(diamond(4, 4.5))).attr("fill", "#c8c8c8").attr("stroke", "#333").attr("stroke-width", 0.7);
  label(866, 4368, "Speed / 10", 11, "start");
}
</script>
</body></html>
